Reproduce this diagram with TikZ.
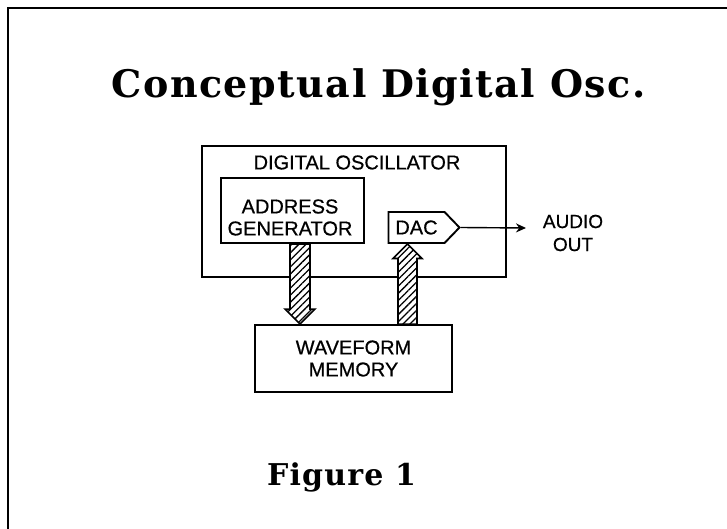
\documentclass[tikz,border=0pt]{standalone}
\usepackage{fontspec}
\setmainfont{Liberation Sans}
\newfontfamily\labfont{Liberation Sans}[FakeBold=0.6]
\newfontfamily\titlefont{DejaVu Serif}[LetterSpace=4]
\usetikzlibrary{shapes.symbols,arrows.meta,patterns.meta,calc}
\begin{document}
\begin{tikzpicture}[x=1pt,y=-1pt,
  box/.style={draw,line width=1.9pt,rectangle,inner sep=0pt},
  lab/.style={font=\labfont\fontsize{20}{22}\selectfont,align=center,inner sep=0pt},
  bus/.style={draw,line width=1.6pt,line join=miter,fill=white,
    postaction={pattern={Lines[angle=45,distance=5pt,line width=1.3pt]}}},
  outarrow/.style={-{Stealth[length=10pt,width=9pt]},line width=1.4pt}]
\useasboundingbox (0,0) rectangle (727,529);
\draw[line width=2pt] (8,529) -- (8,8) -- (727,8);
\node[font=\titlefont\bfseries\fontsize{38}{40}\selectfont,anchor=base,inner sep=0pt] (title) at (378.5,98) {Conceptual Digital Osc.};
\node[box,minimum width=304,minimum height=131] (osc) at (354,211.5) {};
\node[lab] (osclab) at (357,162.5) {DIGITAL OSCILLATOR};
\node[box,minimum width=197,minimum height=67,lab] (memory) at (353.5,358.5) {WAVEFORM\\MEMORY};
\coordinate (bx1) at (300,0);
\coordinate (bx2) at (407.5,0);
\node[box,minimum width=143,minimum height=65] (addr) at (292.5,210.5) {};
\node[lab] (addrlab) at (290,217.5) {ADDRESS\\GENERATOR};
\node[draw,line width=1.9pt,signal,signal to=east,signal pointer angle=92,
  minimum width=71,minimum height=31,inner sep=0pt,lab] (dac) at (416.5,227.5) {DAC};
\draw[bus] ($(addr.south -| bx1)+(-10,0)$) -- ($(memory.north -| bx1)+(-10,-15)$) -- ++(-5,0)
  -- (memory.north -| bx1) -- ++(15,-15) -- ++(-5,0) -- ($(addr.south -| bx1)+(10,0)$) -- cycle;
\draw[bus] ($(memory.north -| bx2)+(-9.5,0)$) -- ($(dac.south -| bx2)+(-9.5,14.5)$) -- ++(-5,0)
  -- (dac.south -| bx2) -- ++(14.5,14.5) -- ++(-5,0) -- ($(memory.north -| bx2)+(9.5,0)$) -- cycle;
\coordinate (aout) at (526,228);
\draw[outarrow] (dac.east) -- (aout);
\node[lab,font=\labfont\fontsize{19}{23}\selectfont] (audio) at (573,233) {AUDIO\\OUT};
\node[font=\titlefont\bfseries\fontsize{30}{32}\selectfont,anchor=base,inner sep=0pt] (fig) at (341.5,485) {Figure 1};
\end{tikzpicture}
\end{document}
